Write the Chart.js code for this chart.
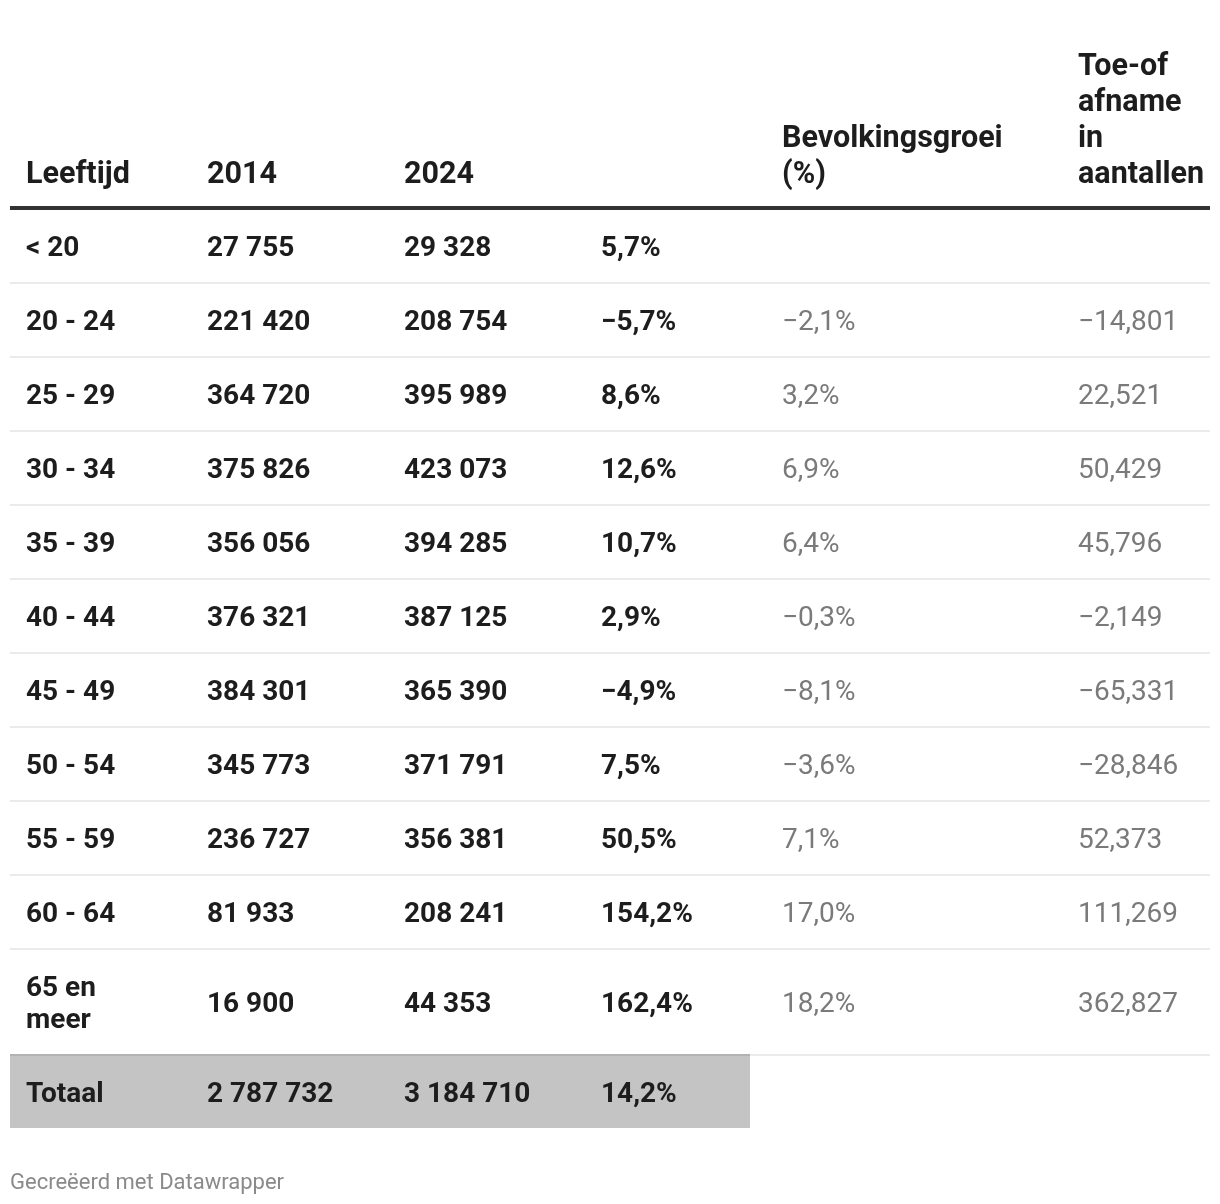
<!DOCTYPE html>
<html>
<head>
<meta charset="utf-8">
<script src="https://cdn.jsdelivr.net/npm/chart.js@4/dist/chart.umd.min.js"></script>
<style>
html,body{margin:0;padding:0;background:#fff;}
#wrap{width:1220px;height:1204px;}
</style>
</head>
<body>
<div id="wrap"><canvas id="c" width="1220" height="1204"></canvas></div>
<script>
const headers = ["Leeftijd", "2014", "2024", "", "Bevolkingsgroei (%)", "Toe-of afname in aantallen"];
const ageGroups = ["< 20", "20 - 24", "25 - 29", "30 - 34", "35 - 39", "40 - 44", "45 - 49", "50 - 54", "55 - 59", "60 - 64", "65 en meer"];
const pop2014 = [27755, 221420, 364720, 375826, 356056, 376321, 384301, 345773, 236727, 81933, 16900];
const pop2024 = [29328, 208754, 395989, 423073, 394285, 387125, 365390, 371791, 356381, 208241, 44353];
const growthPct = [5.7, -5.7, 8.6, 12.6, 10.7, 2.9, -4.9, 7.5, 50.5, 154.2, 162.4];
const bevolkingsgroei = [null, -2.1, 3.2, 6.9, 6.4, -0.3, -8.1, -3.6, 7.1, 17.0, 18.2];
const toeAfname = [null, -14801, 22521, 50429, 45796, -2149, -65331, -28846, 52373, 111269, 362827];
const totalLabel = "Totaal";
const total2014 = 2787732;
const total2024 = 3184710;
const totalGrowth = 14.2;
const footerText = "Gecreëerd met Datawrapper";

const MINUS = "\u2212";
function fmtSpace(n){ const s = Math.abs(n).toString().replace(/\B(?=(\d{3})+(?!\d))/g, " "); return (n<0?MINUS:"")+s; }
function fmtComma(n){ const s = Math.abs(n).toString().replace(/\B(?=(\d{3})+(?!\d))/g, ","); return (n<0?MINUS:"")+s; }
function fmtPct(v){ if(v===null) return ""; return (v<0?MINUS:"") + Math.abs(v).toFixed(1).replace(".", ",") + "%"; }

// layout (styles)
const colX = [26, 207, 404, 601, 782, 1078];
const tableLeft = 10, tableRight = 1210;
const headerLineY = 208;
const rowH = [74,74,74,74,74,74,74,74,74,74,106];
const totalH = 73;
const FONT = "Roboto, 'Liberation Sans', sans-serif";
const FS = 28;
const HFS = 30.5;

const rowLabels = ageGroups.concat([totalLabel]);

const tablePlugin = {
  id: 'tablePlugin',
  afterDraw(chart){
    const ctx = chart.ctx;
    const xs = chart.scales.x;
    const X = i => xs.getPixelForValue(colX[i]);
    ctx.save();
    ctx.textAlign = 'left';
    // headers
    ctx.fillStyle = '#1d1d1d';
    ctx.font = `bold ${HFS}px ${FONT}`;
    ctx.textBaseline = 'alphabetic';
    const lh = 36, base = 183;
    const headerLines = [["Leeftijd"],["2014"],["2024"],[],["Bevolkingsgroei","(%)"],["Toe-of","afname","in","aantallen"]];
    headerLines.forEach((lines, i) => {
      lines.forEach((t, k) => {
        ctx.fillText(t, X(i), base - (lines.length-1-k)*lh);
      });
    });
    // header line
    ctx.fillStyle = '#333333';
    ctx.fillRect(xs.getPixelForValue(tableLeft), headerLineY-2, xs.getPixelForValue(tableRight)-xs.getPixelForValue(tableLeft), 4);

    // rows
    let y = headerLineY + 1;
    ctx.textBaseline = 'middle';
    const dy = 3;
    ageGroups.forEach((g, r) => {
      const h = rowH[r];
      const cy = y + h/2;
      ctx.fillStyle = '#1d1d1d';
      ctx.font = `bold ${FS}px ${FONT}`;
      const parts = g === "65 en meer" ? ["65 en", "meer"] : [g];
      parts.forEach((p, k) => ctx.fillText(p, X(0), cy + (k - (parts.length-1)/2)*32 + dy));
      ctx.fillText(fmtSpace(pop2014[r]), X(1), cy + dy);
      ctx.fillText(fmtSpace(pop2024[r]), X(2), cy + dy);
      ctx.fillText(fmtPct(growthPct[r]), X(3), cy + dy);
      ctx.fillStyle = '#7a7a7a';
      ctx.font = `${FS}px ${FONT}`;
      ctx.fillText(fmtPct(bevolkingsgroei[r]), X(4), cy + dy);
      if (toeAfname[r] !== null) ctx.fillText(fmtComma(toeAfname[r]), X(5), cy + dy);
      y += h;
      ctx.fillStyle = '#ebebeb';
      ctx.fillRect(xs.getPixelForValue(tableLeft), y-1, xs.getPixelForValue(tableRight)-xs.getPixelForValue(tableLeft), 2);
    });
    // total row
    const totRight = 750;
    ctx.fillStyle = '#c4c4c4';
    ctx.fillRect(xs.getPixelForValue(tableLeft), y, xs.getPixelForValue(totRight)-xs.getPixelForValue(tableLeft), totalH);
    ctx.fillStyle = '#b3b3b3';
    ctx.fillRect(xs.getPixelForValue(tableLeft), y-1, xs.getPixelForValue(totRight)-xs.getPixelForValue(tableLeft), 2);
    const cy = y + totalH/2;
    ctx.fillStyle = '#1d1d1d';
    ctx.font = `bold ${FS}px ${FONT}`;
    ctx.fillText(totalLabel, X(0), cy + dy);
    ctx.fillText(fmtSpace(total2014), X(1), cy + dy);
    ctx.fillText(fmtSpace(total2024), X(2), cy + dy);
    ctx.fillText(fmtPct(totalGrowth), X(3), cy + dy);
    // footer
    ctx.fillStyle = '#8a8a8a';
    ctx.font = `22px ${FONT}`;
    ctx.textBaseline = 'alphabetic';
    ctx.fillText(footerText, xs.getPixelForValue(10), 1189);
    ctx.restore();
  }
};

new Chart(document.getElementById('c'), {
  type: 'bar',
  data: {
    labels: rowLabels,
    datasets: [{ data: pop2024.concat([total2024]), backgroundColor: 'rgba(0,0,0,0)' }]
  },
  options: {
    responsive: false,
    animation: false,
    indexAxis: 'y',
    layout: { padding: 0 },
    plugins: { legend: { display: false }, tooltip: { enabled: false } },
    scales: {
      x: { type: 'linear', min: 0, max: 1220, display: false },
      y: { display: false }
    }
  },
  plugins: [tablePlugin]
});
</script>
</body>
</html>
